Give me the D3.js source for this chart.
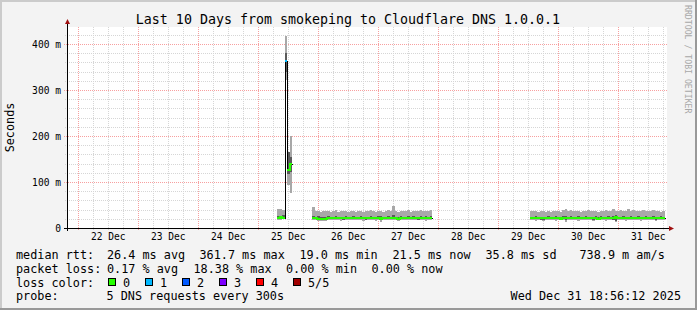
<!DOCTYPE html>
<html><head><meta charset="utf-8">
<script src="https://cdn.jsdelivr.net/npm/d3@7"></script>
<style>
html,body{margin:0;padding:0;background:#fff;}
svg{display:block;}
text{font-family:"DejaVu Sans Mono",monospace;fill:#000;}
</style></head><body>
<svg id="c" width="697" height="310"></svg>
<script>
// ---------------- data ----------------
const title = "Last 10 Days from smokeping to Cloudflare DNS 1.0.0.1";
const yAxisTitle = "Seconds";
const watermark = "RRDTOOL / TOBI OETIKER";
const graphStart = "2025-12-21T18:56:12";
const graphEnd = "2025-12-31T18:56:12";
const xTickDays = ["2025-12-22","2025-12-23","2025-12-24","2025-12-25","2025-12-26","2025-12-27","2025-12-28","2025-12-29","2025-12-30","2025-12-31"];
const xTickLabels = ["22 Dec","23 Dec","24 Dec","25 Dec","26 Dec","27 Dec","28 Dec","29 Dec","30 Dec","31 Dec"];
const yTickValues = [0,100,200,300,400];
const yTickLabels = ["0","100 m","200 m","300 m","400 m"];
const yMax = 437;
// hour index counted from 22 Dec 00:00, one bucket per hour
const bucketHour = [
 79,80,81,82,83,84,
 93,94,95,96,97,98,99,100,101,102,103,104,105,106,107,108,109,110,111,112,113,114,115,116,117,118,119,120,121,122,123,124,125,126,127,128,129,130,131,132,133,134,135,136,137,138,139,140,
 180,181,182,183,184,185,186,187,188,189,190,191,192,193,194,195,196,197,198,199,200,201,202,203,204,205,206,207,208,209,210,211,212,213,214,215,216,217,218,219,220,221,222,223,224,225,226,227,228,229,230,231,232,233];
// ping values in ms: lowest, 2nd, median, 4th, highest
const pingMin = [
 18,17,19,322,93,76,
 17,17,16,15,16,16,17,17,17,17,17,16,17,17,17,17,17,17,17,17,16,17,17,17,17,16,17,14,17,17,17,17,17,17,15,17,17,17,17,17,17,17,17,17,17,16,17,17,
 17,17,16,17,17,15,17,17,17,17,16,17,17,17,14,17,17,17,17,16,17,17,17,17,17,15,17,17,17,17,16,17,17,17,13,17,17,17,16,17,17,17,17,17,16,17,17,17,17,17,15,17,17,17];
const pingQ1 = [
 20,20,21,340,118,122,
 19,19,18,17,18,18,19,19,19,19,19,19,18,19,19,19,19,19,19,19,19,18,19,19,19,19,19,18,19,19,19,19,19,19,18,19,19,19,19,19,19,19,18,19,19,19,19,19,
 19,19,19,19,18,18,19,19,19,19,19,19,19,19,17,19,19,19,19,19,19,19,19,19,19,18,19,19,19,19,19,19,19,18,16,19,19,19,19,19,19,19,19,19,19,19,19,19,19,19,18,19,19,19];
const pingMedian = [
 21,23,22,362,126,140,
 22,21,20,19,19,20,21,21,21,21,21,21,21,21,21,21,21,21,21,21,21,21,21,21,21,21,21,20,21,21,21,21,21,21,20,21,21,21,21,21,21,21,21,21,21,21,22,21,
 21,21,21,21,21,21,21,21,21,21,21,21,20,21,21,21,21,21,21,21,21,21,21,21,21,21,21,20,21,21,21,21,21,21,23,21,21,21,21,21,21,21,21,21,21,21,22,21,21,21,21,21,21,21];
const pingQ3 = [
 26,27,28,380,165,155,
 27,25,26,24,25,25,26,24,25,26,25,25,24,26,25,25,26,24,25,26,25,25,24,26,25,25,26,27,25,25,26,25,28,25,24,26,25,25,26,25,26,25,25,27,25,26,25,26,
 25,25,26,25,25,24,25,26,25,25,26,25,25,26,27,25,26,25,25,26,25,25,26,25,25,24,26,25,26,25,25,26,25,26,28,25,25,26,25,25,26,25,25,26,25,25,26,25,25,26,25,25,26,25];
const pingMax = [
 42,42,40,418,165,200,
 45,36,38,35,37,36,38,34,36,39,35,37,36,38,35,36,37,34,38,36,35,37,36,39,37,35,36,38,35,37,40,36,48,37,35,38,36,37,39,35,38,36,37,40,36,38,37,39,
 38,36,37,35,37,36,34,36,35,38,36,37,35,39,42,38,40,37,36,38,35,36,37,39,36,38,37,35,38,36,39,37,36,42,38,37,40,36,38,41,37,39,36,38,37,40,36,38,37,39,36,38,35,37];
const lossCount = [
 0,0,0,1,0,0,
 0,0,0,0,0,0,0,0,0,0,0,0,0,0,0,0,0,0,0,0,0,0,0,0,0,0,0,0,0,0,0,0,0,0,0,0,0,0,0,0,0,0,0,0,0,0,0,0,
 0,0,0,0,0,0,0,0,0,0,0,0,0,0,0,0,0,0,0,0,0,0,0,0,0,0,0,0,0,0,0,0,0,0,0,0,0,0,0,0,0,0,0,0,0,0,0,0,0,0,0,0,0,0];
const lossLabels = ["0","1","2","3","4","5/5"];
const lossColors = ["#26ff00","#00b8ff","#0059ff","#7e00ff","#ff0000","#a10000"];
const legendRtt = [["median rtt:",16],["26.4 ms avg",107],["361.7 ms max",199.5],["19.0 ms min",299.5],["21.5 ms now",392.5],["35.8 ms sd",485.5],["738.9 m am/s",579.5]];
const legendLoss = [["packet loss:",16],["0.17 % avg",107],["18.38 % max",193.5],["0.00 % min",286],["0.00 % now",371.5]];
const legendProbe = [["probe:",16],["5 DNS requests every 300s",106.5]];
const timestamp = "Wed Dec 31 18:56:12 2025";

// ---------------- layout ----------------
const W = 697, H = 310;
const L = 67, R = 667, T = 27, B = 228;
const gridShift = -1.4;
const svg = d3.select("#c");
const parse = d3.timeParse("%Y-%m-%dT%H:%M:%S");
const day0 = d3.timeParse("%Y-%m-%d")("2025-12-22");
const x = d3.scaleTime().domain([parse(graphStart), parse(graphEnd)]).range([L, R]);
const y = d3.scaleLinear().domain([0, yMax]).range([B, T]);
const hourT = h => d3.timeHour.offset(day0, h);
const gx = d => Math.round(x(d) + gridShift) + 0.5;

// background & frame
svg.append("rect").attr("width", W).attr("height", H).attr("fill", "#f3f3f3");
svg.append("path").attr("d", `M0,0H${W}V2H2V${H}H0Z`).attr("fill", "#cbcbcb");
svg.append("path").attr("d", `M${W},${H}H0V${H-2}H${W-2}V0H${W}Z`).attr("fill", "#999999");
svg.append("rect").attr("x", L).attr("y", T).attr("width", R - L).attr("height", B - T).attr("fill", "#ffffff");

const g = svg.append("g").attr("shape-rendering", "crispEdges");
// minor grid
const minorX = d3.timeHour.every(6).range(parse(graphStart), parse(graphEnd)).filter(d => d.getHours() !== 0);
g.selectAll(".mx").data(minorX).join("line")
  .attr("x1", gx).attr("x2", gx)
  .attr("y1", T).attr("y2", B + 2)
  .attr("stroke", "#d6d6d6").attr("stroke-dasharray", "1,1");
const minorY = d3.range(20, yMax, 20).filter(v => v % 100 !== 0);
g.selectAll(".my").data(minorY).join("line")
  .attr("x1", L - 2).attr("x2", R)
  .attr("y1", d => Math.round(y(d)) + 0.5).attr("y2", d => Math.round(y(d)) + 0.5)
  .attr("stroke", "#d6d6d6").attr("stroke-dasharray", "1,1");
// major grid
const dayDates = xTickDays.map(d => d3.timeParse("%Y-%m-%d")(d));
g.selectAll(".Mx").data(dayDates).join("line")
  .attr("x1", gx).attr("x2", gx)
  .attr("y1", T).attr("y2", B + 3)
  .attr("stroke", "#f7a0a0").attr("stroke-dasharray", "1,1");
g.selectAll(".My").data(yTickValues.filter(v => v > 0)).join("line")
  .attr("x1", L - 3).attr("x2", R)
  .attr("y1", d => Math.round(y(d)) + 0.5).attr("y2", d => Math.round(y(d)) + 0.5)
  .attr("stroke", "#f7a0a0").attr("stroke-dasharray", "1,1");

// buckets
const buckets = bucketHour.map((h, i) => ({
  h, t0: hourT(h), t1: hourT(h + 1),
  lo: pingMin[i], q1: pingQ1[i], med: pingMedian[i], q3: pingQ3[i], hi: pingMax[i], loss: lossCount[i]
}));
const runs = [];
buckets.forEach((b, i) => {
  if (i === 0 || b.h !== buckets[i - 1].h + 1) runs.push([]);
  runs[runs.length - 1].push(b);
});
const sm = svg.append("g").attr("shape-rendering", "crispEdges");
sm.selectAll(".s1").data(buckets).join("rect")
  .attr("x", d => Math.round(x(d.t0))).attr("width", d => Math.round(x(d.t1)) - Math.round(x(d.t0)))
  .attr("y", d => Math.round(y(d.hi))).attr("height", d => Math.round(y(d.lo)) - Math.round(y(d.hi)))
  .attr("fill", "#a8a8a8");
sm.selectAll(".s2").data(buckets).join("rect")
  .attr("x", d => Math.round(x(d.t0))).attr("width", d => Math.round(x(d.t1)) - Math.round(x(d.t0)))
  .attr("y", d => Math.round(y(d.q3))).attr("height", d => Math.max(1, Math.round(y(d.q1)) - Math.round(y(d.q3))))
  .attr("fill", "#5a5a5a");

// black median step line
const stepLine = d3.line().x(p => Math.round(x(p[0])) + 0.5).y(p => Math.round(y(p[1])) + 0.5).curve(d3.curveStepAfter);
runs.forEach(run => {
  const pts = run.map(b => [b.t0, b.med]);
  pts.push([run[run.length - 1].t1, run[run.length - 1].med]);
  sm.append("path").attr("d", stepLine(pts)).attr("fill", "none").attr("stroke", "#000").attr("stroke-width", 1);
});
// loss coloured median, 2px
const colRuns = [];
runs.forEach(run => run.forEach((b, i) => {
  if (i === 0 || b.loss !== run[i - 1].loss) colRuns.push([]);
  colRuns[colRuns.length - 1].push(b);
}));
const step2 = d3.line().x(p => Math.round(x(p[0]))).y(p => Math.round(y(p[1]))).curve(d3.curveStepAfter);
colRuns.forEach(run => {
  const pts = run.map(b => [b.t0, b.med]);
  pts.push([run[run.length - 1].t1, run[run.length - 1].med]);
  sm.append("path").attr("d", step2(pts)).attr("fill", "none")
    .attr("stroke", lossColors[run[0].loss]).attr("stroke-width", 2);
});

// axes
const ax = svg.append("g").attr("shape-rendering", "crispEdges");
ax.append("line").attr("x1", L - 3).attr("x2", R + 3).attr("y1", B + 0.5).attr("y2", B + 0.5).attr("stroke", "#000");
ax.append("line").attr("x1", L + 0.5).attr("x2", L + 0.5).attr("y1", B + 3).attr("y2", T - 4).attr("stroke", "#000");
svg.append("path").attr("d", `M${L - 2},${T - 3}L${L + 3},${T - 3}L${L + 0.5},${T - 8}Z`).attr("fill", "#a01010");
svg.append("path").attr("d", `M${R + 2},${B - 2}L${R + 2},${B + 3}L${R + 7},${B + 0.5}Z`).attr("fill", "#a01010");

// tick labels
svg.selectAll(".xl").data(xTickLabels).join("text")
  .attr("x", (d, i) => x(d3.timeHour.offset(dayDates[i], 12)) + gridShift)
  .attr("y", 240).attr("text-anchor", "middle").attr("font-size", "9.6px").text(d => d);
svg.selectAll(".yl").data(yTickLabels).join("text")
  .attr("x", 61).attr("y", (d, i) => y(yTickValues[i]) + 3.5)
  .attr("text-anchor", "end").attr("font-size", "9.6px").text(d => d);

// titles
svg.append("text").attr("x", 348).attr("y", 23.5).attr("text-anchor", "middle").attr("font-size", "13.3px").text(title);
svg.append("text").attr("transform", `translate(14,${(T + B) / 2}) rotate(-90)`).attr("text-anchor", "middle")
  .attr("font-size", "11.8px").text(yAxisTitle);
svg.append("text").attr("transform", "translate(685,5) rotate(90)").attr("font-size", "8.2px")
  .style("fill", "#a8a8a8").text(watermark);

// legend
const lg = svg.append("g").attr("font-size", "11.8px").attr("xml:space", "preserve");
const legendRow = (items, yy) => items.forEach(([s, xx]) => lg.append("text").attr("x", xx).attr("y", yy).text(s));
legendRow(legendRtt, 258.5);
legendRow(legendLoss, 272.5);
legendRow([["loss color:", 16]], 286.5);
legendRow(legendProbe, 300);
lossLabels.forEach((s, i) => {
  const sx = 108 + i * 37;
  lg.append("rect").attr("x", sx + 0.5).attr("y", 278.5).attr("width", 7).attr("height", 7)
    .attr("fill", lossColors[i]).attr("stroke", "#000").attr("shape-rendering", "crispEdges");
  lg.append("text").attr("x", sx + 15).attr("y", 286.5).text(s);
});
lg.append("text").attr("x", 681).attr("y", 300).attr("text-anchor", "end").text(timestamp);
</script></body></html>
